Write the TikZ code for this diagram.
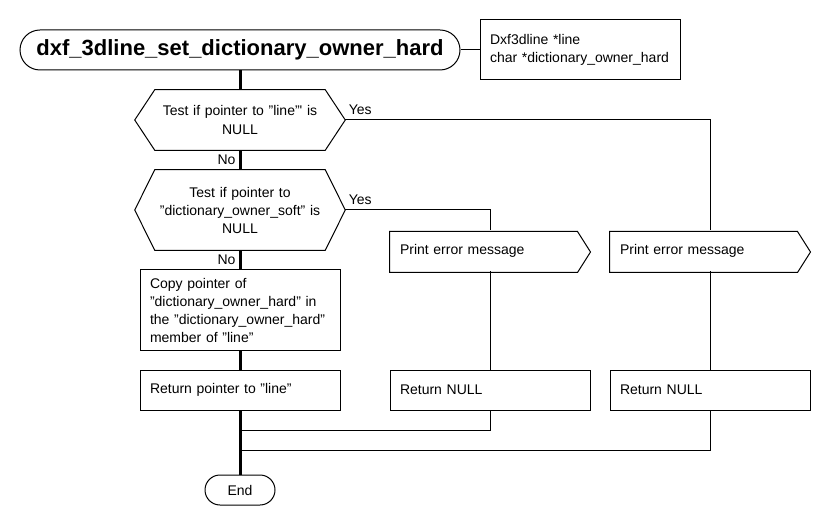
\documentclass[tikz,border=0pt]{standalone}
\usepackage{fontspec}
\setmainfont{Liberation Sans}
\newlength{\du}
\setlength{\du}{0.75pt}
\tikzset{
  textfont/.style={font=\fontsize{10.5}{13.5}\selectfont},
  block/.style={draw, line width=1\du, textfont, minimum width=200\du, minimum height=40\du,
    text width=180\du, inner xsep=10\du, align=left},
  decision/.style={textfont, minimum width=210\du, minimum height=60\du,
    text width=190\du, inner sep=0pt, align=center},
  terminal/.style={draw, line width=1\du, rounded corners=15\du, textfont,
    minimum width=70\du, minimum height=30\du},
  outline/.style={line width=1\du},
  flow/.style={line width=3\du},
  link/.style={line width=1\du},
}

\begin{document}
\begin{tikzpicture}[x=1\du, y=-1\du]
\useasboundingbox (0,0) rectangle (830,530);

% header
\node[terminal, rounded corners=20\du, minimum width=440\du, minimum height=40\du,
  font=\fontsize{16.5}{20}\bfseries] (title) at (240,50) {dxf\_3dline\_set\_dictionary\_owner\_hard};
\node[block, minimum height=60\du] (params) at (580,50) {Dxf3dline *line\\char *dictionary\_owner\_hard};

% tests
\node[decision] (test1) at (240,120) {Test if pointer to "line"\textquotesingle{} is\\NULL};
\draw[outline] (test1.west) -- ([xshift=20\du]test1.north west) -- ([xshift=-20\du]test1.north east)
  -- (test1.east) -- ([xshift=-20\du]test1.south east) -- ([xshift=20\du]test1.south west) -- cycle;
\node[decision, minimum height=80\du] (test2) at (240,210) {Test if pointer to\\"dictionary\_owner\_soft" is\\NULL};
\draw[outline] (test2.west) -- ([xshift=20\du]test2.north west) -- ([xshift=-20\du]test2.north east)
  -- (test2.east) -- ([xshift=-20\du]test2.south east) -- ([xshift=20\du]test2.south west) -- cycle;

% main branch
\node[block, minimum height=80\du] (copy) at (240,310) {Copy pointer of\\"dictionary\_owner\_hard" in\\the "dictionary\_owner\_hard"\\member of "line"};
\node[block] (retline) at (240,390) {Return pointer to "line"};

% error branches
\node[block, draw=none] (print1) at (490,251) {Print error message};
\draw[outline] ([yshift=-1\du]print1.north west) -- ([xshift=-13\du,yshift=-1\du]print1.north east) -- ([yshift=-1\du]print1.east)
  -- ([xshift=-13\du,yshift=-1\du]print1.south east) -- ([yshift=-1\du]print1.south west) -- cycle;
\node[block, draw=none] (print2) at (710,251) {Print error message};
\draw[outline] ([yshift=-1\du]print2.north west) -- ([xshift=-13\du,yshift=-1\du]print2.north east) -- ([yshift=-1\du]print2.east)
  -- ([xshift=-13\du,yshift=-1\du]print2.south east) -- ([yshift=-1\du]print2.south west) -- cycle;
\node[block] (retnull1) at (490,390) {Return NULL};
\node[block] (retnull2) at (710,390) {Return NULL};

\node[terminal] (end) at (240,490) {End};
\coordinate (join1) at (240,430);
\coordinate (join2) at (240,450);

% connectors
\draw[link] (title.east) -- (params.west);
\draw[flow] (title.south) -- (test1.north);
\draw[flow] (test1.south) -- node[left, textfont, inner sep=3\du] {No} (test2.north);
\draw[flow] (test2.south) -- node[left, textfont, inner sep=3\du] {No} (copy.north);
\draw[flow] (copy.south) -- (retline.north);
\draw[flow] (retline.south) -- (end.north);
\draw[link] (test1.east) -| node[pos=0, above right, textfont, inner xsep=3\du, inner ysep=5\du] {Yes} (print2.north);
\draw[link] (test2.east) -| node[pos=0, above right, textfont, inner xsep=3\du, inner ysep=5\du] {Yes} (print1.north);
\draw[link] (print1.south) -- (retnull1.north);
\draw[link] (print2.south) -- (retnull2.north);
\draw[link] (retnull1.south) |- (join1);
\draw[link] (retnull2.south) |- (join2);
\end{tikzpicture}
\end{document}
